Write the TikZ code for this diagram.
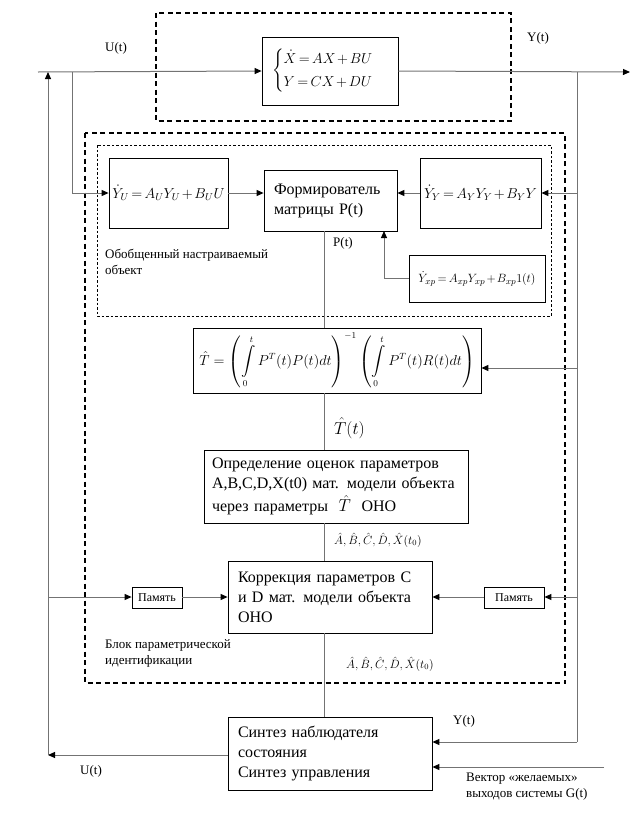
\documentclass[tikz,border=0pt]{standalone}
\usepackage{amsmath}
\usepackage{fontspec}
\setmainfont{Liberation Serif}
\usetikzlibrary{arrows.meta}
\begin{document}
\begin{tikzpicture}[x=1pt,y=-1pt,
  blk/.style={draw=black, line width=0.8pt, inner sep=0pt, fill=white},
  btext/.style={font=\fontsize{16}{20}\selectfont, align=left, inner xsep=10pt},
  tight/.style={execute at begin node={\medmuskip=2mu\thickmuskip=3mu}},
  ln/.style={draw=black!55, line width=1pt},
  arr/.style={ln, -{Triangle[length=7pt,width=6pt,fill=black,color=black]}},
  lbl/.style={font=\fontsize{13}{16}\selectfont, inner sep=0pt, align=left},
  bigdash/.style={draw=black, line width=1.4pt, dash pattern=on 5pt off 3.5pt},
  thindash/.style={draw=black, line width=0.6pt, dash pattern=on 2.5pt off 2pt}]
\useasboundingbox (0,0) rectangle (637,817);
% dashed frames
\draw[bigdash] (156,13) rectangle (511,121);
\draw[bigdash] (85,133) rectangle (565,683);
\draw[thindash] (97,145) rectangle (551,316);
% blocks
\node[blk, tight, minimum width=136pt, minimum height=68pt] (sys) at (330,71)
  {\fontsize{14.5}{17}\selectfont$\begin{cases}\dot X = AX+BU\\[3pt] Y=CX+DU\end{cases}$};
\node[blk, tight, minimum width=119pt, minimum height=70pt] (yu) at (168.5,193)
  {\fontsize{14}{17}\selectfont$\dot Y_U = A_U Y_U + B_U U$};
\node[blk, btext, text width=113pt, inner xsep=10pt, minimum height=61pt] (form) at (330.5,200.5)
  {Формирователь\\матрицы P(t)};
\node[blk, tight, minimum width=121pt, minimum height=70pt] (yy) at (480.5,193)
  {\fontsize{14}{17}\selectfont$\dot Y_Y = A_Y Y_Y + B_Y Y$};
\node[blk, tight, minimum width=136pt, minimum height=47pt] (yxp) at (477,278.5)
  {\fontsize{13}{16}\selectfont$\dot Y_{xp} = A_{xp} Y_{xp} + B_{xp} 1(t)$};
\node[blk, minimum width=288pt, minimum height=65pt] (tb) at (337,360.5)
  {\fontsize{13.5}{16}\selectfont$\displaystyle\hat T=\left(\int\limits_0^t P^T(t)P(t)dt\right)^{-1}\left(\int\limits_0^t P^T(t)R(t)dt\right)$};
\node[blk, btext, text width=248pt, inner xsep=8pt, minimum height=73pt] (est) at (336,486.5)
  {Определение оценок параметров\\A,B,C,D,X(t0) мат. модели объекта\\[3pt]через параметры \ $\hat T$\ \ ОНО};
\node[blk, btext, text width=184pt, minimum height=72pt] (corr) at (330,597)
  {Коррекция параметров С\\и D мат. модели объекта\\ОНО};
\node[blk, minimum width=50pt, minimum height=21pt, font=\fontsize{12}{14}\selectfont] (meml) at (157,597.5) {Память};
\node[blk, minimum width=60pt, minimum height=21pt, font=\fontsize{12}{14}\selectfont] (memr) at (514,597.5) {Память};
\node[blk, btext, text width=184pt, minimum height=73pt] (syn) at (330,753.5)
  {Синтез наблюдателя\\состояния\\Синтез управления};
% coordinates
\coordinate (lstart) at (38,72);
\coordinate (rend) at (630,72);
\coordinate (lb) at (48,755);
\coordinate (lt) at (48,72);
\coordinate (ut) at (72,72);
\coordinate (ub) at (72,193);
\coordinate (rt) at (577,72);
\coordinate (rb) at (577,742);
\coordinate (xpc) at (384,278.5);
\coordinate (xpt) at (384,231);
\coordinate (gin) at (604,767);
% connectors
\draw[arr] (lstart) -- (sys.west);
\draw[arr] (sys.east) -- (rend);
\draw[arr] (syn.west |- lb) -- (lb);
\draw[arr] (lb) -- (lt);
\draw[ln] (ut) -- (ub);
\draw[arr] (ub) -- (yu.west |- ub);
\draw[arr] (yu.east |- 0,193) -- (form.west |- 0,193);
\draw[arr] (yy.west) -- (form.east |- yy.west);
\draw[ln] (rt) -- (rb);
\draw[arr] (rb) -- (syn.east |- rb);
\draw[arr] (577,193) -- (yy.east);
\draw[arr] (577,368) -- (tb.east |- 0,368);
\draw[arr] (577,597) -- (memr.east |- 0,597);
\draw[arr] (memr.west |- 0,597) -- (corr.east |- 0,597);
\draw[arr] (48,597) -- (meml.west |- 0,597);
\draw[arr] (meml.east |- 0,597) -- (corr.west |- 0,597);
\draw[ln] (yxp.west) -- (xpc);
\draw[arr] (xpc) -- (xpt);
\draw[ln] (form.south -| 324,0) -- (tb.north -| 324,0);
\draw[ln] (tb.south -| 324,0) -- (est.north -| 324,0);
\draw[ln] (est.south -| 324,0) -- (corr.north -| 324,0);
\draw[ln] (corr.south -| 324,0) -- (syn.north -| 324,0);
\draw[arr] (gin) -- (syn.east |- gin);
% labels
\node[lbl, anchor=west] (lu1) at (105,48) {U(t)};
\node[lbl, anchor=west] (ly1) at (527,38) {Y(t)};
\node[lbl, anchor=west] (lp) at (333,243) {P(t)};
\node[lbl, anchor=north west] (lobj) at (105,249) {Обобщенный настраиваемый\\объект};
\node[anchor=west, inner sep=0pt] (lth) at (334,428) {\fontsize{16}{18}\selectfont$\hat T(t)$};
\node[anchor=west, inner sep=0pt] (lab1) at (334,540) {\fontsize{11.5}{14}\selectfont$\hat A, \hat B, \hat C, \hat D, \hat X(t_0)$};
\node[lbl, anchor=north west] (lblk) at (105,639) {Блок параметрической\\идентификации};
\node[anchor=west, inner sep=0pt] (lab2) at (346,664) {\fontsize{11.5}{14}\selectfont$\hat A, \hat B, \hat C, \hat D, \hat X(t_0)$};
\node[lbl, anchor=west] (ly2) at (453,721) {Y(t)};
\node[lbl, anchor=west] (lu2) at (80,771) {U(t)};
\node[lbl, anchor=north west] (lg) at (466,773) {Вектор «желаемых»\\выходов системы G(t)};
\end{tikzpicture}
\end{document}
